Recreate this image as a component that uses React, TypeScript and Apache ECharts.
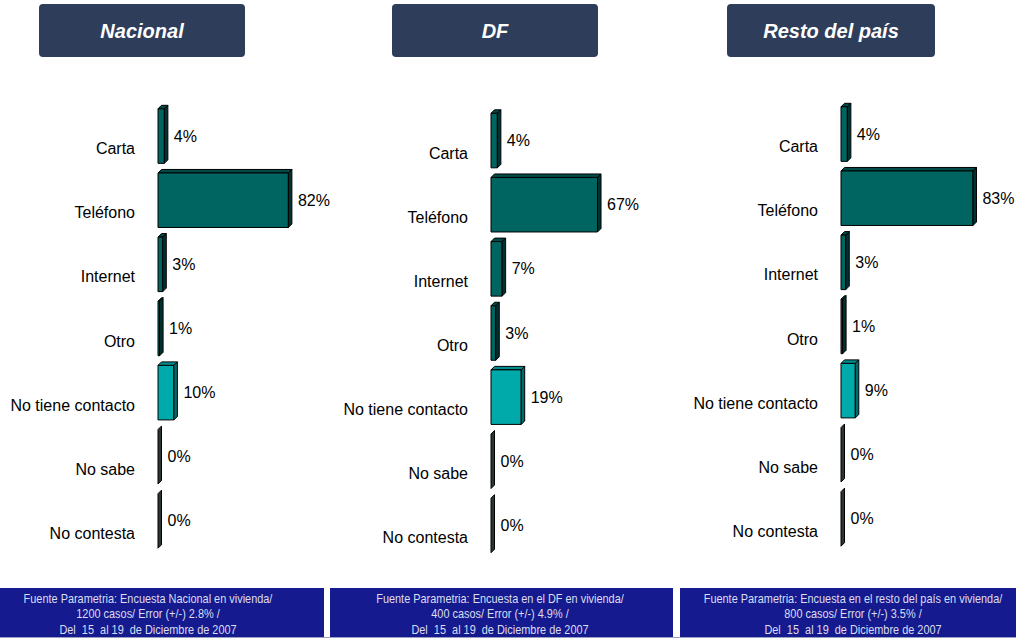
import React, { useEffect, useRef } from "react";
import * as echarts from "echarts";

const categories = ["Carta", "Teléfono", "Internet", "Otro", "No tiene contacto", "No sabe", "No contesta"];
const nacional = [4, 82, 3, 1, 10, 0, 0];
const df = [4, 67, 7, 3, 19, 0, 0];
const resto = [4, 83, 3, 1, 9, 0, 0];
const panelTitles = ["Nacional", "DF", "Resto del país"];
const footnotes = [
  "Fuente Parametria: Encuesta Nacional en vivienda/\n1200 casos/ Error (+/-) 2.8% /\nDel  15  al 19  de Diciembre de 2007",
  "Fuente Parametria: Encuesta en el DF en vivienda/\n400 casos/ Error (+/-) 4.9% /\nDel  15  al 19  de Diciembre de 2007",
  "Fuente Parametria: Encuesta en el resto del país en vivienda/\n800 casos/ Error (+/-) 3.5% /\nDel  15  al 19  de Diciembre de 2007",
];
const highlightCategory = "No tiene contacto";

const FONT = "'Liberation Sans', Arial, sans-serif";

const panels = [
  { values: nacional, grid: { left: 158, top: 104, width: 159, height: 449 }, title: { x: 39, w: 206 }, foot: { x: 0, w: 324, tx: 148 } },
  { values: df, grid: { left: 491, top: 108.5, width: 159, height: 449 }, title: { x: 392, w: 206 }, foot: { x: 330, w: 343, tx: 500 } },
  { values: resto, grid: { left: 841, top: 102, width: 159, height: 449 }, title: { x: 727, w: 208 }, foot: { x: 680, w: 336, tx: 853 } },
];

function renderBar(params: any, api: any) {
  const v = api.value(0);
  const ci = api.value(1);
  const base = api.coord([0, ci]);
  const end = api.coord([v, ci]);
  const band = api.size([0, 1])[1];
  const h = band * 0.85;
  const x0 = base[0];
  const x1 = end[0];
  const yc = base[1];
  const top = yc - h / 2;
  const bot = yc + h / 2;
  const d = 3.5;
  const hi = categories[ci] === highlightCategory;
  const front = hi ? "#00AAAA" : "#006461";
  const topC = hi ? "#008C8C" : "#004B48";
  const side = v === 0 ? "#2B3535" : hi ? "#006B6B" : "#003231";
  const stroke = { stroke: "#000", lineWidth: 1 };
  const children: any[] = [];
  if (x1 - x0 > 0) {
    children.push({
      type: "polygon",
      shape: { points: [[x0, top], [x0 + d, top - d], [x1 + d, top - d], [x1, top]] },
      style: { fill: topC, ...stroke },
    });
    children.push({
      type: "rect",
      shape: { x: x0, y: top, width: x1 - x0, height: h },
      style: { fill: front, ...stroke },
    });
  }
  children.push({
    type: "polygon",
    shape: { points: [[x1, top], [x1 + d, top - d], [x1 + d, bot - d], [x1, bot]] },
    style: { fill: side, ...stroke },
  });
  children.push({
    type: "text",
    style: {
      x: x1 + d + 6,
      y: yc,
      text: v + "%",
      align: "left",
      verticalAlign: "middle",
      fill: "#000",
      fontSize: 16,
      fontFamily: FONT,
    },
  });
  children.push({
    type: "text",
    style: {
      x: x0 - 23,
      y: yc + 12.5,
      text: categories[ci],
      align: "right",
      verticalAlign: "middle",
      fill: "#000",
      fontSize: 16,
      fontFamily: FONT,
    },
  });
  return { type: "group", children };
}

export default function App() {
  const ref = useRef<HTMLDivElement>(null);
  useEffect(() => {
    if (!ref.current) return;
    const chart = echarts.init(ref.current, null, { renderer: "svg" });
    const graphics: any[] = [
      {
        type: "line",
        z: 0,
        shape: { x1: 0, y1: 637.5, x2: 1016, y2: 637.5 },
        style: { stroke: "#9A9FC4", lineWidth: 1 },
      },
    ];
    panels.forEach((p, i) => {
      graphics.push({
        type: "rect",
        shape: { x: p.title.x, y: 4, width: p.title.w, height: 53, r: 4 },
        style: { fill: "#2E3D5A" },
      });
      graphics.push({
        type: "text",
        x: p.title.x + p.title.w / 2,
        y: 31,
        style: {
          text: panelTitles[i],
          align: "center",
          verticalAlign: "middle",
          fill: "#fff",
          fontSize: 20,
          fontWeight: "bold",
          fontStyle: "italic",
          fontFamily: FONT,
        },
      });
      graphics.push({
        type: "rect",
        z: 1,
        shape: { x: p.foot.x, y: 588, width: p.foot.w, height: 49 },
        style: { fill: "#151B8E" },
      });
      graphics.push({
        type: "text",
        z: 2,
        x: p.foot.tx,
        y: 614,
        scaleX: 0.84,
        style: {
          x: 0,
          y: 0,
          text: footnotes[i],
          align: "center",
          verticalAlign: "middle",
          fill: "#DCDDF2",
          fontSize: 13,
          lineHeight: 15.5,
          fontFamily: FONT,
        },
      });
    });

    chart.setOption({
      animation: false,
      backgroundColor: "#fff",
      grid: panels.map((p) => ({ ...p.grid, containLabel: false, outerBoundsMode: "none" })),
      xAxis: panels.map((_, i) => ({
        type: "value",
        gridIndex: i,
        min: 0,
        max: 100,
        show: false,
      })),
      yAxis: panels.map((_, i) => ({
        type: "category",
        gridIndex: i,
        data: categories,
        inverse: true,
        axisLine: { show: false },
        axisTick: { show: false },
        splitLine: { show: false },
        axisLabel: { show: false },
      })),
      series: panels.map((p, i) => ({
        type: "custom",
        xAxisIndex: i,
        yAxisIndex: i,
        renderItem: renderBar,
        encode: { x: 0, y: 1 },
        data: p.values.map((v, ci) => [v, ci]),
        clip: false,
      })),
      graphic: graphics,
    });
    return () => chart.dispose();
  }, []);
  return (
    <div
      ref={ref}
      style={{ position: "absolute", left: 0, top: 0, width: 1016, height: 640 }}
    />
  );
}
